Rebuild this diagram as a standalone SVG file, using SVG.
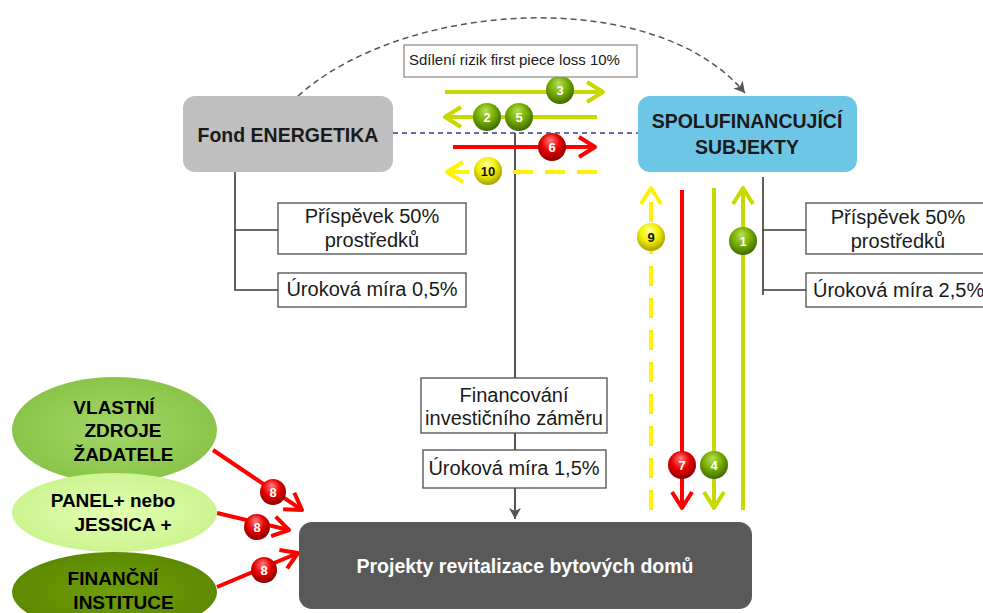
<svg xmlns="http://www.w3.org/2000/svg" width="983" height="613" viewBox="0 0 983 613">
<style>
.t{font-family:"Liberation Sans",Arial,sans-serif;fill:#1a1a1a}
.r{font-size:20px}
.b{font-size:19.5px;font-weight:bold}
.e{font-size:19px;font-weight:bold;fill:#000}
.bx{fill:#fff;stroke:#4d4d4d;stroke-width:1.3}
.tree{fill:none;stroke:#3a3a3a;stroke-width:1.6}
.yg{fill:none;stroke:#C8D900;stroke-width:4}
.rd{fill:none;stroke:#FF0000;stroke-width:4}
.yl{fill:none;stroke:#FFF200;stroke-width:4;stroke-dasharray:20 12}
.n{font-family:"Liberation Sans",Arial,sans-serif;font-size:13px;font-weight:bold;fill:#fff;text-anchor:middle}
.nk{fill:#111}
</style>
<defs>
<radialGradient id="gG" cx="0.45" cy="0.4" r="0.6" fx="0.45" fy="0.25">
<stop offset="0" stop-color="#B5E05A"/><stop offset="0.55" stop-color="#77AE00"/><stop offset="1" stop-color="#3F6A00"/>
</radialGradient>
<radialGradient id="gR" cx="0.45" cy="0.4" r="0.6" fx="0.45" fy="0.25">
<stop offset="0" stop-color="#FF8080"/><stop offset="0.55" stop-color="#E80000"/><stop offset="1" stop-color="#8A0000"/>
</radialGradient>
<radialGradient id="gY" cx="0.45" cy="0.4" r="0.6" fx="0.45" fy="0.25">
<stop offset="0" stop-color="#FFFFA0"/><stop offset="0.55" stop-color="#F2F000"/><stop offset="1" stop-color="#A8A000"/>
</radialGradient>
<radialGradient id="eV" cx="0.5" cy="0.5" r="0.6">
<stop offset="0" stop-color="#A2D868"/><stop offset="1" stop-color="#86C043"/>
</radialGradient>
<radialGradient id="eP" cx="0.5" cy="0.5" r="0.6">
<stop offset="0" stop-color="#E2FFB0"/><stop offset="1" stop-color="#C8F28A"/>
</radialGradient>
<radialGradient id="eF" cx="0.5" cy="0.5" r="0.6">
<stop offset="0" stop-color="#6E9E08"/><stop offset="1" stop-color="#5A8600"/>
</radialGradient>
<marker id="cYG" markerUnits="userSpaceOnUse" viewBox="-20 -13 24 26" markerWidth="24" markerHeight="26" refX="0" refY="0" orient="auto">
<path d="M-16,-10 L0,0 L-16,10" fill="none" stroke="#C8D900" stroke-width="4" stroke-linejoin="round"/>
</marker>
<marker id="cR" markerUnits="userSpaceOnUse" viewBox="-20 -13 24 26" markerWidth="24" markerHeight="26" refX="0" refY="0" orient="auto">
<path d="M-16,-10 L0,0 L-16,10" fill="none" stroke="#FF0000" stroke-width="4" stroke-linejoin="round"/>
</marker>
<marker id="cY" markerUnits="userSpaceOnUse" viewBox="-20 -13 24 26" markerWidth="24" markerHeight="26" refX="0" refY="0" orient="auto">
<path d="M-16,-10 L0,0 L-16,10" fill="none" stroke="#FFF200" stroke-width="4" stroke-linejoin="round"/>
</marker>
<marker id="aG" markerUnits="userSpaceOnUse" viewBox="-12 -7 14 14" markerWidth="14" markerHeight="14" refX="0" refY="0" orient="auto">
<path d="M-11,-6 L0,0 L-11,6 L-8,0 z" fill="#555"/>
</marker>
</defs>

<g id="connectors">
<path d="M298,96 C405,0 655,-15 745,93" fill="none" stroke="#555" stroke-width="1.5" stroke-dasharray="6 4" marker-end="url(#aG)"/>
<line x1="393" y1="133" x2="638" y2="133" stroke="#3A3A8C" stroke-width="1.5" stroke-dasharray="5 4"/>
<path class="tree" d="M235,172 V290 H278 M235,230 H278"/>
<path class="tree" d="M763,177 V295 M763,230 H806 M763,290 H806"/>
<line x1="515" y1="133" x2="515" y2="378" stroke="#555" stroke-width="2"/>
<line x1="515" y1="433" x2="515" y2="450" stroke="#555" stroke-width="2"/>
<line x1="515" y1="488" x2="515" y2="519" stroke="#555" stroke-width="2" marker-end="url(#aG)"/>

<line class="yg" x1="445" y1="92" x2="603" y2="92" marker-end="url(#cYG)"/>
<line class="yg" x1="597" y1="117" x2="445" y2="117" marker-end="url(#cYG)"/>
<line class="rd" x1="453" y1="147" x2="595" y2="147" marker-end="url(#cR)"/>
<line class="yl" x1="597" y1="172" x2="447" y2="172" marker-end="url(#cY)"/>

<line class="yl" x1="651" y1="510" x2="651" y2="188" marker-end="url(#cY)"/>
<line class="rd" x1="682" y1="190" x2="682" y2="508" marker-end="url(#cR)"/>
<line class="yg" x1="714" y1="188" x2="714" y2="508" marker-end="url(#cYG)"/>
<line class="yg" x1="743" y1="510" x2="743" y2="188" marker-end="url(#cYG)"/>

<line class="rd" x1="213" y1="450" x2="302" y2="510" marker-end="url(#cR)"/>
<line class="rd" x1="217" y1="513" x2="289" y2="530" marker-end="url(#cR)"/>
<line class="rd" x1="217" y1="587" x2="298" y2="553" marker-end="url(#cR)"/>

<g id="badges">
<circle cx="560" cy="90" r="14" fill="url(#gG)"/><text class="n" x="560" y="95">3</text>
<circle cx="487" cy="117" r="14" fill="url(#gG)"/><text class="n" x="487" y="122">2</text>
<circle cx="519" cy="117" r="14" fill="url(#gG)"/><text class="n" x="519" y="122">5</text>
<circle cx="552" cy="147" r="14" fill="url(#gR)"/><text class="n" x="552" y="152">6</text>
<circle cx="488" cy="171" r="14" fill="url(#gY)"/><text class="n nk" x="488" y="176">10</text>
<circle cx="651" cy="237" r="14" fill="url(#gY)"/><text class="n nk" x="651" y="242">9</text>
<circle cx="743" cy="241" r="14" fill="url(#gG)"/><text class="n" x="743" y="246">1</text>
<circle cx="682" cy="465" r="14" fill="url(#gR)"/><text class="n" x="682" y="470">7</text>
<circle cx="714" cy="465" r="14" fill="url(#gG)"/><text class="n" x="714" y="470">4</text>
<circle cx="273" cy="492" r="13" fill="url(#gR)"/><text class="n" x="273" y="497">8</text>
<circle cx="257" cy="527" r="13" fill="url(#gR)"/><text class="n" x="257" y="532">8</text>
<circle cx="264" cy="570" r="13" fill="url(#gR)"/><text class="n" x="264" y="575">8</text>
</g>
</g>

<g id="risk">
<rect x="404" y="45" width="233" height="32" fill="#fff" stroke="#888" stroke-width="1.2"/>
<text class="t" x="409" y="65" font-size="15">Sdílení rizik first piece loss 10%</text>
</g>

<g id="fond">
<rect x="183" y="96" width="210" height="76" rx="12" fill="#BFBFBF"/>
<text class="t b" x="288" y="142" text-anchor="middle">Fond ENERGETIKA</text>
</g>

<g id="spolu">
<rect x="638" y="96" width="219" height="76" rx="12" fill="#6EC6E6"/>
<text class="t b" x="747" y="128" text-anchor="middle">SPOLUFINANCUJÍCÍ</text>
<text class="t b" x="747" y="154" text-anchor="middle">SUBJEKTY</text>
</g>

<g id="fond-prispevek">
<rect class="bx" x="278" y="203" width="188" height="51"/>
<text class="t r" x="372" y="223" text-anchor="middle">Příspěvek 50%</text>
<text class="t r" x="372" y="247" text-anchor="middle">prostředků</text>
</g>
<g id="fond-urok">
<rect class="bx" x="278" y="273" width="188" height="34"/>
<text class="t r" x="372" y="296" text-anchor="middle">Úroková míra 0,5%</text>
</g>

<g id="spolu-prispevek">
<rect class="bx" x="806" y="203" width="190" height="51"/>
<text class="t r" x="898" y="224" text-anchor="middle">Příspěvek 50%</text>
<text class="t r" x="898" y="248" text-anchor="middle">prostředků</text>
</g>
<g id="spolu-urok">
<rect class="bx" x="806" y="273" width="190" height="34"/>
<text class="t r" x="813" y="297">Úroková míra 2,5%</text>
</g>

<g id="financovani">
<rect class="bx" x="421" y="378" width="186" height="55"/>
<text class="t r" x="514" y="402" text-anchor="middle">Financování</text>
<text class="t r" x="514" y="425" text-anchor="middle">investičního záměru</text>
</g>
<g id="urok-15">
<rect class="bx" x="423" y="450" width="183" height="38"/>
<text class="t r" x="514" y="475" text-anchor="middle">Úroková míra 1,5%</text>
</g>

<g id="projekty">
<rect x="299" y="522" width="453" height="87" rx="13" fill="#595959"/>
<text class="t b" x="525" y="573" text-anchor="middle" style="fill:#fff">Projekty revitalizace bytových domů</text>
</g>

<g id="vlastni">
<ellipse cx="114.5" cy="430" rx="102.5" ry="53" fill="url(#eV)"/>
<text class="t e" x="114" y="414" text-anchor="middle">VLASTNÍ</text>
<text class="t e" x="123" y="437" text-anchor="middle">ZDROJE</text>
<text class="t e" x="123.5" y="461" text-anchor="middle">ŽADATELE</text>
</g>
<g id="financni">
<ellipse cx="114.5" cy="592" rx="102.5" ry="40" fill="url(#eF)"/>
<text class="t e" x="113" y="585" text-anchor="middle">FINANČNÍ</text>
<text class="t e" x="123.5" y="609" text-anchor="middle">INSTITUCE</text>
</g>
<g id="panel">
<ellipse cx="114.5" cy="512.5" rx="102.5" ry="39.5" fill="url(#eP)"/>
<text class="t e" x="113" y="507" text-anchor="middle">PANEL+ nebo</text>
<text class="t e" x="123" y="531" text-anchor="middle">JESSICA +</text>
</g>
</svg>
